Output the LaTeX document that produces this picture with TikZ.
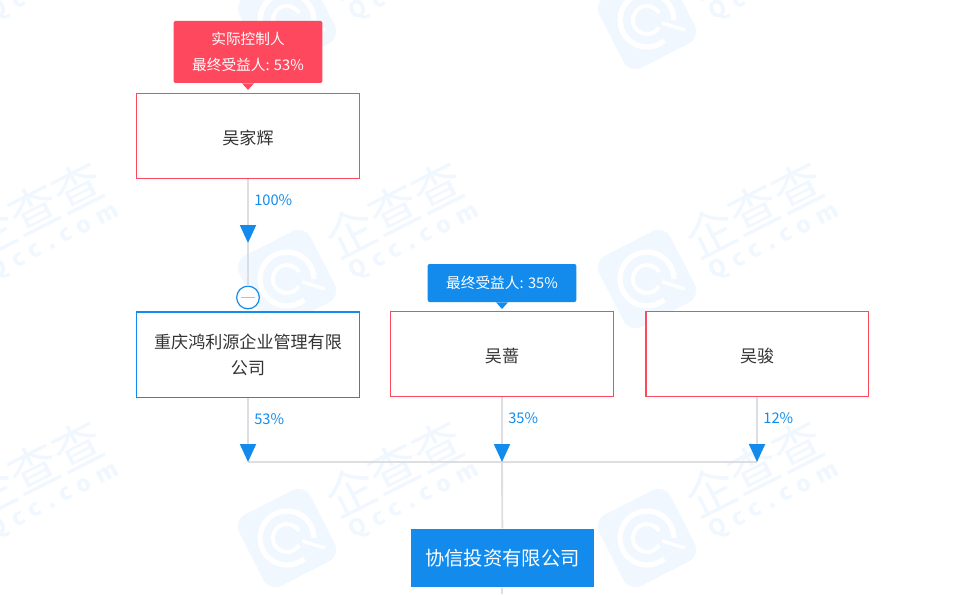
\documentclass[tikz,border=0pt]{standalone}
\usepackage{fontspec}
\setmainfont{Noto Sans CJK SC}
\usepackage{tikz}
\usetikzlibrary{positioning,arrows.meta}
\definecolor{qccblue}{RGB}{18,139,237}
\definecolor{qccred}{RGB}{253,72,94}
\definecolor{qccline}{RGB}{221,222,225}
\definecolor{qccmark}{RGB}{240,247,254}
\definecolor{qcctext}{RGB}{51,51,51}
\tikzset{
  basebox/.style={draw=qccred,line width=1.1pt,fill=white,text=qcctext,minimum width=167pt,minimum height=64pt,font=\fontsize{12.8}{19.5}\selectfont,align=center,inner sep=0pt},
  personbox/.style={basebox,text height=14pt},
  firmbox/.style={basebox,draw=qccblue},
  rootbox/.style={fill=qccblue,text=white,minimum width=137pt,minimum height=44pt,font=\fontsize{14.5}{20}\selectfont,inner sep=0pt},
  tagbox/.style={fill=#1,text=white,rounded corners=1.5pt,minimum width=111.5pt,font=\fontsize{11}{19.5}\selectfont,align=center,inner sep=0pt},
  percent/.style={text=qccblue,font=\fontsize{11}{12}\selectfont,inner sep=0pt},
  arista/.style={draw=qccline,line width=1.4pt},
  flecha/.style={arista,-{Triangle[length=13.5pt,width=12pt,color=qccblue]}},
  fold/.style={draw=qccblue,line width=.9pt,fill=white,circle,minimum size=17pt,inner sep=0pt},
}
\begin{document}
\begin{tikzpicture}[x=.75pt,y=.75pt]
    \useasboundingbox (0,0) rectangle (973,594);
    % watermark
    \foreach \wx in {-73,287,647}{
      \foreach \wy in {56,315,574}{
        \begin{scope}[shift={(\wx,\wy)}]
          \fill[qccmark,rounded corners=10pt,rotate=27] (-40,-40) rectangle (40,40);
          \draw[white,line width=4pt] (27,0) arc (0:310:27);
          \draw[white,line width=3pt] (12,7) arc (30:330:14);
          \draw[white,line width=2.5pt] (15,-3) -- (38,-10);
        \end{scope}
        \node[text=qccmark,rotate=27,font=\fontsize{37}{37}\selectfont] at (\wx+107,\wy+70) {企查查};
        \node[text=qccmark,rotate=27,font=\fontsize{17}{17}\selectfont\bfseries\addfontfeature{LetterSpace=33}] at (\wx+127,\wy+37) {Qcc.com};
      }
    }
    % boxes
    \node[personbox] (jia) at (248,458) {吴家辉};
    \node[firmbox, below=99pt of jia] (hongli) {重庆鸿利源企业管理有限\\公司};
    \node[personbox] (qiang) at (502,240) {吴蔷};
    \node[personbox, right=23.25pt of qiang] (jun) {吴骏};
    \node[rootbox] (xiexin) at (502.5,36) {协信投资有限公司};
    % tags
    \node[tagbox=qccred, minimum height=46.5pt, above=7pt of jia] (tagjia) {实际控制人\\最终受益人: 53\%};
    \node[tagbox=qccblue, minimum height=28.5pt, above=6.25pt of qiang] (tagqiang) {最终受益人: 35\%};
    \fill[qccred] ([xshift=-4.5pt]tagjia.south) -- ([xshift=4.5pt]tagjia.south) -- ([yshift=-5pt]tagjia.south) -- cycle;
    \fill[qccblue] ([xshift=-4.5pt]tagqiang.south) -- ([xshift=4.5pt]tagqiang.south) -- ([yshift=-5pt]tagqiang.south) -- cycle;
    % fold button and joints
    \node[fold, above=1.5pt of hongli] (btn) {};
    \coordinate (tipjia) at (248,351);
    \coordinate (join1) at (248,132);
    \coordinate (join2) at (502,132);
    \coordinate (join3) at (757,132);
    \coordinate (rootend) at (502,0);
    \coordinate (minusl) at ([xshift=-5pt]btn.center);
    \coordinate (minusr) at ([xshift=5pt]btn.center);
    % edges
    \draw[arista] (join1) -- (join3);
    \draw[arista] (join2) -- (xiexin);
    \draw[arista] (xiexin) -- (rootend);
    \draw[flecha] (jia) -- (tipjia);
    \draw[arista] (tipjia) -- (btn);
    \draw[flecha] (hongli) -- (join1);
    \draw[flecha] (qiang) -- (join2);
    \draw[flecha] (jun) -- (join3);
    \draw[draw=black!25,line width=1.1pt] (minusl) -- (minusr);
    % percents
    \node[percent, below right=11.5pt and 4.5pt of jia.south] (p1) {100\%};
    \node[percent, below right=11.5pt and 4.5pt of hongli.south] (p2) {53\%};
    \node[percent, below right=11.5pt and 4.5pt of qiang.south] (p3) {35\%};
    \node[percent, below right=11.5pt and 4.5pt of jun.south] (p4) {12\%};
\end{tikzpicture}
\end{document}
